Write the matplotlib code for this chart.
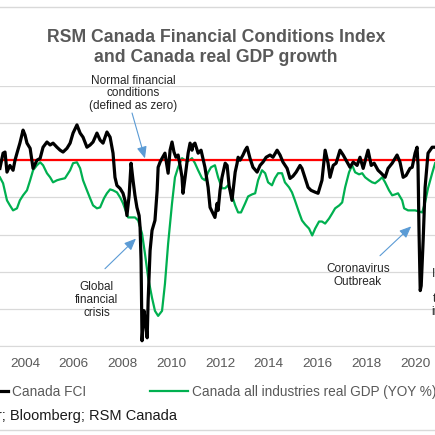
import matplotlib
matplotlib.use("Agg")
from matplotlib import pyplot as plt
from matplotlib.lines import Line2D

plt.rcParams['font.family'] = ['Liberation Sans', 'DejaVu Sans']

# Canada FCI (index, zero = normal conditions)
fci_year = [2002.97, 2003.10, 2003.18, 2003.26, 2003.38, 2003.51, 2003.59, 2003.67, 2003.79, 2003.92,
            2004.00, 2004.08, 2004.21, 2004.33, 2004.49, 2004.62, 2004.74, 2004.90, 2005.03, 2005.15,
            2005.31, 2005.44, 2005.56, 2005.72, 2005.85, 2005.97, 2006.13, 2006.26, 2006.38, 2006.54,
            2006.67, 2006.79, 2006.95, 2007.08, 2007.20, 2007.36, 2007.49, 2007.61, 2007.69, 2007.77,
            2007.90, 2008.02, 2008.10, 2008.18, 2008.27, 2008.35, 2008.43, 2008.51, 2008.59, 2008.68,
            2008.72, 2008.76, 2008.80, 2008.88, 2008.96, 2009.01, 2009.05, 2009.13, 2009.21, 2009.33,
            2009.42, 2009.46, 2009.54, 2009.62, 2009.74, 2009.83, 2009.87, 2009.95, 2010.03, 2010.11,
            2010.19, 2010.28, 2010.36, 2010.44, 2010.48, 2010.56, 2010.69, 2010.77, 2010.85, 2010.89,
            2010.97, 2011.10, 2011.22, 2011.38, 2011.51, 2011.59, 2011.71, 2011.79, 2011.88, 2011.92,
            2012.00, 2012.08, 2012.21, 2012.29, 2012.37, 2012.45, 2012.49, 2012.62, 2012.70, 2012.74,
            2012.82, 2012.94, 2013.03, 2013.11, 2013.23, 2013.35, 2013.52, 2013.64, 2013.76, 2013.89,
            2014.05, 2014.17, 2014.34, 2014.46, 2014.58, 2014.75, 2014.87, 2014.99, 2015.12, 2015.28,
            2015.36, 2015.49, 2015.61, 2015.73, 2015.90, 2016.02, 2016.18, 2016.31, 2016.43, 2016.51,
            2016.64, 2016.76, 2016.92, 2017.05, 2017.17, 2017.33, 2017.46, 2017.62, 2017.74, 2017.87,
            2018.07, 2018.20, 2018.32, 2018.48, 2018.61, 2018.77, 2018.89, 2019.06, 2019.26, 2019.38,
            2019.51, 2019.63, 2019.79, 2019.88, 2020.00, 2020.08, 2020.12, 2020.16, 2020.21, 2020.25,
            2020.33, 2020.41, 2020.53, 2020.70, 2020.82]
fci = [-0.22, 0.19, 0.22, -0.32, -0.14, -0.27, 0.00, 0.19, 0.46, 0.81,
       0.68, 0.46, 0.32, -0.22, 0.00, 0.05, 0.35, 0.49, 0.41, 0.46,
       0.35, 0.27, 0.22, 0.32, 0.46, 0.73, 0.95, 0.73, 0.62, 0.35,
       0.41, 0.49, 0.73, 0.54, 0.46, 0.76, 0.62, 0.19, -0.46, -0.68,
       -0.76, -0.89, -1.08, -1.49, -0.95, -0.08, -0.54, -0.95, -1.27, -1.49,
       -1.81, -2.70, -4.86, -4.05, -4.46, -4.78, -3.78, -2.43, -1.89, -1.62,
       -0.81, -0.19, -0.05, 0.05, 0.19, -0.19, -0.35, 0.27, 0.49, 0.22,
       0.08, 0.14, -0.14, -0.46, -0.89, -0.49, 0.19, 0.46, 0.27, 0.41,
       0.46, 0.19, 0.27, -0.19, -0.73, -1.27, -1.43, -1.54, -1.16, -1.35,
       -0.81, -0.46, -0.08, -0.14, -0.68, -0.95, -1.08, -0.32, -0.08, 0.08,
       0.00, 0.14, 0.27, 0.35, 0.05, -0.19, -0.32, -0.14, -0.05, 0.08,
       0.14, 0.08, 0.27, 0.14, -0.05, -0.22, -0.49, -0.43, -0.32, -0.14,
       -0.22, -0.49, -0.73, -0.81, -0.86, -0.89, -0.54, 0.27, -0.08, -0.46,
       -0.14, -0.08, 0.27, 0.14, 0.00, -0.19, -0.05, -0.14, 0.08, -0.22,
       0.27, -0.14, -0.08, -0.27, -0.35, -0.46, -0.22, -0.08, 0.14, -0.05,
       -0.46, -0.41, -0.22, -0.19, 0.19, 0.35, -0.14, -1.89, -3.51, -3.38,
       -2.16, -0.73, 0.19, 0.35, 0.35]

# Canada all industries real GDP, YOY %
gdp_year = [2002.97, 2003.10, 2003.26, 2003.38, 2003.51, 2003.67, 2003.79, 2003.92, 2004.08, 2004.21,
            2004.33, 2004.49, 2004.62, 2004.74, 2004.90, 2005.03, 2005.15, 2005.31, 2005.44, 2005.64,
            2005.85, 2005.97, 2006.13, 2006.26, 2006.38, 2006.54, 2006.67, 2006.79, 2006.95, 2007.08,
            2007.24, 2007.36, 2007.49, 2007.61, 2007.77, 2007.90, 2008.02, 2008.23, 2008.51, 2008.64,
            2008.80, 2008.92, 2009.05, 2009.21, 2009.33, 2009.46, 2009.62, 2009.74, 2009.87, 2010.03,
            2010.15, 2010.28, 2010.44, 2010.56, 2010.69, 2010.85, 2010.97, 2011.10, 2011.26, 2011.38,
            2011.51, 2011.63, 2011.79, 2011.92, 2012.08, 2012.21, 2012.33, 2012.45, 2012.62, 2012.74,
            2012.86, 2013.03, 2013.15, 2013.31, 2013.44, 2013.56, 2013.72, 2013.85, 2013.97, 2014.13,
            2014.25, 2014.38, 2014.54, 2014.66, 2014.83, 2014.95, 2015.07, 2015.24, 2015.36, 2015.49,
            2015.65, 2015.78, 2015.90, 2016.06, 2016.18, 2016.31, 2016.47, 2016.60, 2016.72, 2016.89,
            2017.01, 2017.13, 2017.29, 2017.42, 2017.54, 2017.70, 2017.83, 2017.95, 2018.11, 2018.24,
            2018.36, 2018.52, 2018.65, 2018.77, 2018.93, 2019.06, 2019.18, 2019.30, 2019.47, 2019.55,
            2019.71, 2020.00, 2020.29, 2020.41, 2020.53, 2020.70, 2020.82]
gdp = [3.08, 2.76, 1.84, 1.57, 1.30, 1.41, 1.84, 2.11, 2.38, 2.92,
       3.46, 3.73, 3.89, 3.73, 3.30, 3.08, 2.81, 2.92, 2.97, 3.03,
       3.46, 3.84, 3.89, 3.57, 2.92, 2.38, 1.95, 1.57, 1.41, 1.46,
       1.95, 2.22, 2.43, 2.38, 2.27, 2.00, 1.68, 0.92, 0.92, 0.76,
       0.05, -1.03, -2.32, -3.41, -4.11, -4.38, -4.11, -2.65, -0.49, 1.68,
       3.08, 3.62, 4.11, 4.00, 3.95, 4.11, 3.84, 3.46, 3.03, 2.92,
       3.35, 3.62, 3.73, 3.08, 2.49, 2.49, 2.65, 2.27, 1.57, 1.19,
       1.19, 1.68, 2.05, 2.16, 2.22, 2.92, 3.46, 3.30, 2.81, 2.65,
       3.03, 3.30, 3.30, 2.81, 2.54, 2.27, 1.84, 1.19, 0.76, 0.54,
       0.32, -0.05, 0.32, 0.70, 0.70, 0.59, 0.86, 1.14, 1.41, 1.57,
       1.73, 2.54, 3.35, 3.73, 3.35, 3.24, 3.30, 3.08, 2.92, 2.81,
       2.76, 2.92, 3.08, 2.81, 2.38, 2.11, 2.16, 2.22, 1.84, 1.41,
       1.30, 1.30, 1.19, 1.73, 2.49, 3.30, 3.84]

year_ticks = [2004, 2006, 2008, 2010, 2012, 2014, 2016, 2018, 2020]

grey = '#595959'
grid_grey = '#D9D9D9'
arrow_blue = '#5B9BD5'

fig = plt.figure(figsize=(4.351, 4.351), dpi=100)
# plot area is wider than the picture: the crop hides both value axes
ax = fig.add_axes([-0.0826, 0.2046, 1.1375, 0.5977])
ax2 = ax.twinx()
ax.set_zorder(2)
ax2.set_zorder(1)
ax.patch.set_visible(False)

ax2.plot(gdp_year, gdp, color='#00B050', lw=1.6, label='Canada all industries real GDP (YOY %)')
ax.axhline(0, color='#FF0000', lw=1.6)
ax.plot(fci_year, fci, color='black', lw=2.3, label='Canada FCI')

ax.set_xlim(2001.5, 2021.8)
ax.set_ylim(-5, 2)
ax2.set_ylim(-6, 8)
ax.set_yticks(range(-5, 3))
ax2.set_yticks(range(-6, 9, 2))
ax2.grid(axis='y', color=grid_grey, lw=0.9)

ax.set_xticks(year_ticks)
ax.tick_params(axis='x', length=0, pad=8.5, labelsize=9.7, labelcolor=grey)
ax.tick_params(axis='y', length=0, labelsize=9.7, labelcolor=grey)
ax2.tick_params(axis='both', length=0, labelsize=9.7, labelcolor=grey)
for a in (ax, ax2):
    for s in a.spines.values():
        s.set_visible(False)
ax.spines['bottom'].set_visible(True)
ax.spines['bottom'].set_color(grid_grey)

fig.text(0.497, 1 - 47.5/435, "RSM Canada Financial Conditions Index\nand Canada real GDP growth",
         ha='center', va='center', fontsize=12.7, fontweight='bold', color=grey, linespacing=1.25)

note = dict(fontsize=8.5, color='#262626', ha='center', va='center', linespacing=1.1)
arrow = dict(arrowstyle='-|>,head_length=0.7,head_width=0.3', color=arrow_blue, lw=0.8,
             shrinkA=0, shrinkB=0)
ax.text(2008.43, 1.80, "Normal financial\nconditions\n(defined as zero)", **note)
ax.annotate("", xy=(2008.92, 0.05), xytext=(2008.39, 1.27), arrowprops=arrow)
ax.text(2006.95, -3.76, "Global\nfinancial\ncrisis", **note)
ax.annotate("", xy=(2008.55, -2.11), xytext=(2007.28, -2.92), arrowprops=arrow)
ax.text(2017.66, -3.11, "Coronavirus\nOutbreak", **note)
ax.annotate("", xy=(2019.84, -1.78), xytext=(2018.56, -2.57), arrowprops=arrow)
ax.text(2021.48, -3.57, "Interest\nhikes\nto fight\ninflation", **note)

h1, l1 = ax.get_legend_handles_labels()
h2, l2 = ax2.get_legend_handles_labels()
ax.legend(h1 + h2, l1 + l2, ncol=2, frameon=False, loc='center left',
          bbox_to_anchor=(-30/435, 1 - 392/435), bbox_transform=fig.transFigure,
          borderpad=0, borderaxespad=0, fontsize=9.8, labelcolor=grey,
          handlelength=2.8, handletextpad=0.3, columnspacing=4.7)

fig.text(-0.211, 1 - 416/435, "Source: Haver; Bloomberg; RSM Canada", fontsize=10.5,
         color='#1a1a1a', ha='left', va='center')

for yy in (1 - 7/435, 1 - 430/435):
    fig.add_artist(Line2D([0, 1], [yy, yy], transform=fig.transFigure, color=grid_grey, lw=1))

fig.savefig("out.png", dpi=100)
